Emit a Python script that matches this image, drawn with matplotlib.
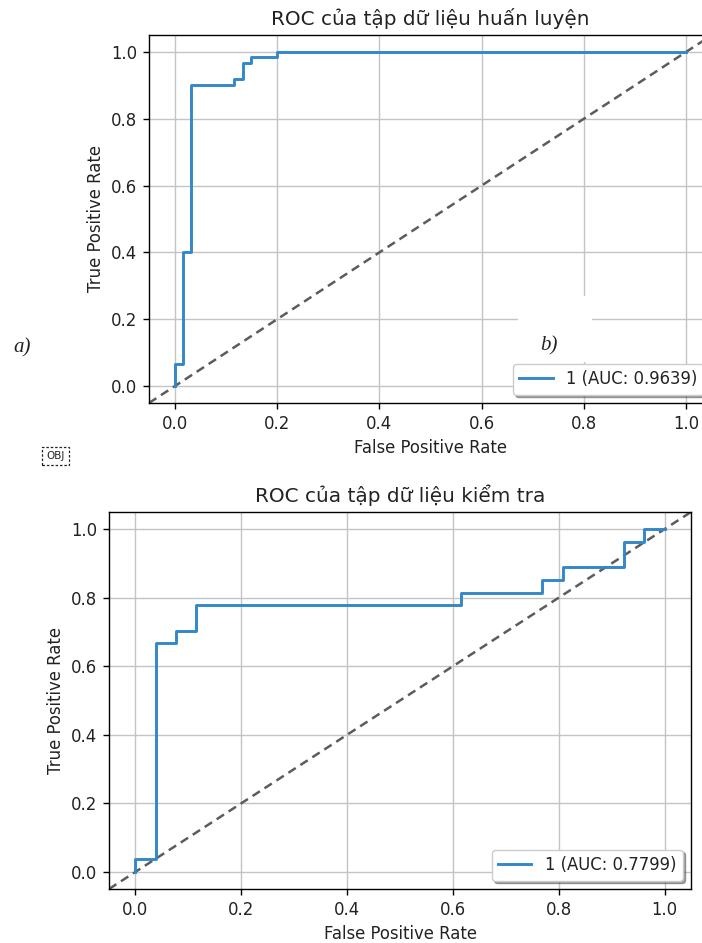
import matplotlib
matplotlib.use('Agg')
import matplotlib.pyplot as plt
from matplotlib.patches import Rectangle

# ROC points (corner points of the step curves)
fpr_train = [0.0, 0.0, 0.017, 0.017, 0.033, 0.033, 0.117, 0.117, 0.133, 0.133,
             0.150, 0.150, 0.200, 0.200, 1.0]
tpr_train = [0.0, 0.067, 0.067, 0.400, 0.400, 0.900, 0.900, 0.917, 0.917, 0.967,
             0.967, 0.983, 0.983, 1.0, 1.0]
auc_train = 0.9639

fpr_test = [0.0, 0.0, 0.038, 0.038, 0.077, 0.077, 0.115, 0.115, 0.615, 0.615,
            0.769, 0.769, 0.808, 0.808, 0.923, 0.923, 0.962, 0.962, 1.0]
tpr_test = [0.0, 0.037, 0.037, 0.667, 0.667, 0.704, 0.704, 0.778, 0.778, 0.815,
            0.815, 0.852, 0.852, 0.889, 0.889, 0.963, 0.963, 1.0, 1.0]
auc_test = 0.7799

titles = ["ROC của tập dữ liệu huấn luyện", "ROC của tập dữ liệu kiểm tra"]
ticks = [0.0, 0.2, 0.4, 0.6, 0.8, 1.0]

plt.rcParams.update({
    'font.family': ['DejaVu Sans'],
    'font.size': 11.9,
    'text.color': '#222222',
    'xtick.labelcolor': '#222222',
    'ytick.labelcolor': '#222222',
    'axes.labelcolor': '#222222',
    'axes.linewidth': 1.0,
    'xtick.major.size': 4.2,
    'ytick.major.size': 4.2,
    'xtick.major.width': 1.0,
    'ytick.major.width': 1.0,
    'xtick.major.pad': 4.2,
    'ytick.major.pad': 4.2,
    'axes.labelpad': 4.6,
})

W, H = 702, 943
fig = plt.figure(figsize=(W / 100, H / 100), dpi=100)


def px_axes(x0, y0, x1, y1):
    # pixel box (top-left origin) -> figure fraction
    return fig.add_axes([x0 / W, 1 - y1 / H, (x1 - x0) / W, (y1 - y0) / H])


def roc_panel(ax, fpr, tpr, auc, title):
    ax.plot(fpr, tpr, color='#3288c8', lw=2.1, label=f"1 (AUC: {auc:.4f})", zorder=3)
    ax.axline((0, 0), (1, 1), color='#5c5c5c', lw=1.8, ls=(0, (3.5, 2.2)), zorder=2)
    ax.set_xlim(-0.05, 1.05)
    ax.set_ylim(-0.05, 1.05)
    ax.set_xticks(ticks)
    ax.set_yticks(ticks)
    ax.grid(True, color='#c4c4c4', lw=1.0)
    ax.set_axisbelow(True)
    ax.set_xlabel("False Positive Rate")
    ax.set_ylabel("True Positive Rate")
    ax.set_title(title, fontsize=14.4, pad=7)
    ax.legend(loc='lower right', shadow=True, fancybox=True, fontsize=11.9,
              handlelength=2.0)


ax_top = px_axes(149, 35, 712, 403)
roc_panel(ax_top, fpr_train, tpr_train, auc_train, titles[0])

ax_bot = px_axes(109, 512, 691, 889)
roc_panel(ax_bot, fpr_test, tpr_test, auc_test, titles[1])

# white patch behind the "b)" label
fig.add_artist(Rectangle((518 / W, 1 - 362 / H), 74 / W, 66 / H,
                         transform=fig.transFigure, facecolor='white',
                         edgecolor='none', zorder=5))

fig.text(13 / W, 1 - 352 / H, "a)", family='Liberation Serif', style='italic',
         fontsize=15, zorder=6)
fig.text(540 / W, 1 - 350 / H, "b)", family='Liberation Serif', style='italic',
         fontsize=15, zorder=6)

# small placeholder box
fig.add_artist(Rectangle((42 / W, 1 - 465 / H), 27 / W, 18 / H,
                         transform=fig.transFigure, facecolor='none',
                         edgecolor='#222222', lw=0.9, ls=(0, (2, 1.5)), zorder=6))
fig.text(55.5 / W, 1 - 456 / H, "OBJ", fontsize=7.5, ha='center', va='center', zorder=7)

fig.savefig("out.png", dpi=100, facecolor='white')
